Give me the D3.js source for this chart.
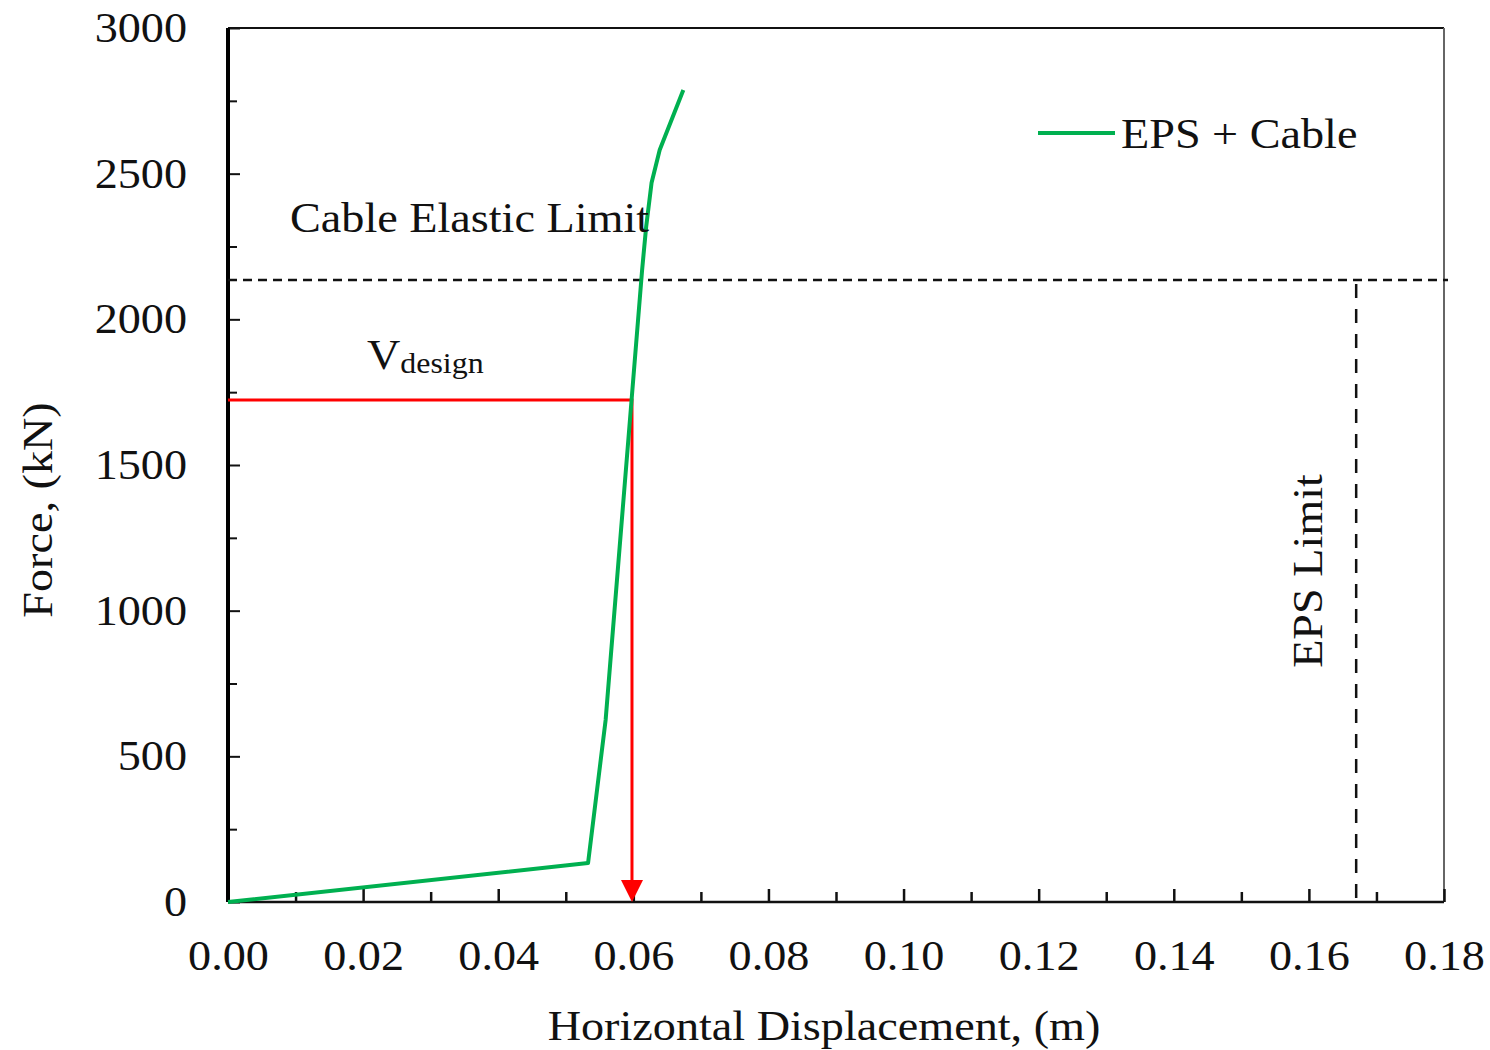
<!DOCTYPE html>
<html>
<head>
<meta charset="utf-8">
<script src="https://cdn.jsdelivr.net/npm/d3@7"></script>
<style>
  body { margin: 0; background: #fff; }
  svg text { font-family: "Liberation Serif", "Times New Roman", serif; fill: #111; }
</style>
</head>
<body>
<div id="chart"></div>
<script>
// curve
var dispValues  = [0, 0.0533, 0.0559, 0.0613, 0.0619, 0.0627, 0.0639, 0.0674];
var forceValues = [0, 134, 625, 2170, 2318, 2469, 2581, 2787];

var xMajorTicks = [0, 0.02, 0.04, 0.06, 0.08, 0.10, 0.12, 0.14, 0.16, 0.18];
var xMinorTicks = [0.01, 0.03, 0.05, 0.07, 0.09, 0.11, 0.13, 0.15, 0.17];
var yMajorTicks = [0, 500, 1000, 1500, 2000, 2500, 3000];
var yMinorTicks = [250, 750, 1250, 1750, 2250, 2750];

var cableLimit = [2135];     // kN
var epsLimit = [0.167];      // m
var vDesign = [1723];        // kN
var vDesignDisp = [0.0598];  // m

var W = 1490, H = 1050;
var margin = {left: 228, top: 28, right: 46, bottom: 148};
var w = W - margin.left - margin.right;
var h = H - margin.top - margin.bottom;
var sx = 1.1; // the serif text in the picture is a bit wider than normal

var svg = d3.select("#chart").append("svg")
	.attr("width", W)
	.attr("height", H);

var g = svg.append("g").attr("transform", "translate(" + margin.left + "," + margin.top + ")");

var x = d3.scaleLinear().domain([0, 0.18]).range([0, w]);
var y = d3.scaleLinear().domain([0, 3000]).range([h, 0]);

// text placed at (px, py) in page coords, widened by sx
function label(parent, px, py, rot) {
	return parent.append("text")
		.attr("transform", "translate(" + px + "," + py + ")" + (rot ? " rotate(" + rot + ")" : "") + " scale(" + sx + ",1)")
		.attr("font-size", 42);
}

// frame (top / right)
g.append("line").attr("x1", 0).attr("x2", w).attr("y1", 0).attr("y2", 0)
	.attr("stroke", "#111").attr("stroke-width", 2);
g.append("line").attr("x1", w).attr("x2", w).attr("y1", 0).attr("y2", h)
	.attr("stroke", "#666").attr("stroke-width", 2);

// inside ticks
function styleTicks(sel, width) {
	sel.select(".domain").remove();
	sel.selectAll(".tick line").attr("stroke", "#111").attr("stroke-width", width);
}
g.append("g").attr("transform", "translate(0," + h + ")")
	.call(d3.axisTop(x).tickValues(xMajorTicks).tickSize(13).tickFormat(""))
	.call(styleTicks, 2.5);
g.append("g").attr("transform", "translate(0," + h + ")")
	.call(d3.axisTop(x).tickValues(xMinorTicks).tickSize(10).tickFormat(""))
	.call(styleTicks, 2.5);
g.append("g")
	.call(d3.axisRight(y).tickValues(yMajorTicks).tickSize(12).tickFormat(""))
	.call(styleTicks, 2);
g.append("g")
	.call(d3.axisRight(y).tickValues(yMinorTicks).tickSize(9).tickFormat(""))
	.call(styleTicks, 2);

// tick labels
var xLab = g.append("g").attr("transform", "translate(0," + h + ")")
	.call(d3.axisBottom(x).tickValues(xMajorTicks).tickSize(0).tickPadding(38).tickFormat(d3.format(".2f")));
xLab.select(".domain").remove();
xLab.selectAll("text").attr("font-size", 42).attr("font-family", "Liberation Serif").attr("fill", "#111")
	.attr("transform", "scale(" + sx + ",1)");

var yLab = g.append("g")
	.call(d3.axisLeft(y).tickValues(yMajorTicks).tickSize(0).tickPadding(41).tickFormat(d3.format("d")));
yLab.select(".domain").remove();
yLab.selectAll("text").attr("font-size", 42).attr("font-family", "Liberation Serif").attr("fill", "#111")
	.attr("x", -41 / sx).attr("transform", "scale(" + sx + ",1)");

// axis lines
g.append("line").attr("x1", 0).attr("x2", w).attr("y1", h).attr("y2", h)
	.attr("stroke", "#111").attr("stroke-width", 2.5);
g.append("line").attr("x1", 0).attr("x2", 0).attr("y1", 0).attr("y2", h)
	.attr("stroke", "#000").attr("stroke-width", 4);

// limit lines
g.selectAll(".cable-limit").data(cableLimit).enter().append("line")
	.attr("class", "cable-limit")
	.attr("x1", 0).attr("x2", w + 4)
	.attr("y1", function(d) { return y(d); }).attr("y2", function(d) { return y(d); })
	.attr("stroke", "#111").attr("stroke-width", 2.5).attr("stroke-dasharray", "9,6");

g.selectAll(".eps-limit").data(epsLimit).enter().append("line")
	.attr("class", "eps-limit")
	.attr("x1", function(d) { return x(d); }).attr("x2", function(d) { return x(d); })
	.attr("y1", y(cableLimit[0]) + 4).attr("y2", h)
	.attr("stroke", "#111").attr("stroke-width", 2.5).attr("stroke-dasharray", "14,11");

// design force
var red = "#ff0000";
g.append("line")
	.attr("x1", 0).attr("x2", x(vDesignDisp[0]))
	.attr("y1", y(vDesign[0])).attr("y2", y(vDesign[0]))
	.attr("stroke", red).attr("stroke-width", 3);
g.append("line")
	.attr("x1", x(vDesignDisp[0])).attr("x2", x(vDesignDisp[0]))
	.attr("y1", y(vDesign[0]) - 1.5).attr("y2", h - 18)
	.attr("stroke", red).attr("stroke-width", 3);
var ax = x(vDesignDisp[0]);
g.append("path")
	.attr("d", "M" + (ax - 11) + "," + (h - 22) + "L" + (ax + 11) + "," + (h - 22) + "L" + ax + "," + h + "Z")
	.attr("fill", red);

// curve
var pts = d3.zip(dispValues, forceValues);
var line = d3.line()
	.x(function(d) { return x(d[0]); })
	.y(function(d) { return y(d[1]); });
g.append("path").datum(pts)
	.attr("d", line)
	.attr("fill", "none")
	.attr("stroke", "#00b050")
	.attr("stroke-width", 4)
	.attr("stroke-linejoin", "round");

// annotations
label(svg, 290, 232).text("Cable Elastic Limit");

var vt = label(svg, 367, 369);
vt.append("tspan").text("V");
vt.append("tspan").attr("font-size", 29).attr("dy", 4).text("design");

label(svg, 1322, 571, -90).attr("text-anchor", "middle").text("EPS Limit");

// legend
svg.append("line").attr("x1", 1038).attr("x2", 1115)
	.attr("y1", 133).attr("y2", 133)
	.attr("stroke", "#00b050").attr("stroke-width", 4);
label(svg, 1121, 148).text("EPS + Cable");

// axis titles
label(svg, 824, 1040).attr("text-anchor", "middle").text("Horizontal Displacement, (m)");
label(svg, 52, 510, -90).attr("text-anchor", "middle").text("Force, (kN)");
</script>
</body>
</html>
